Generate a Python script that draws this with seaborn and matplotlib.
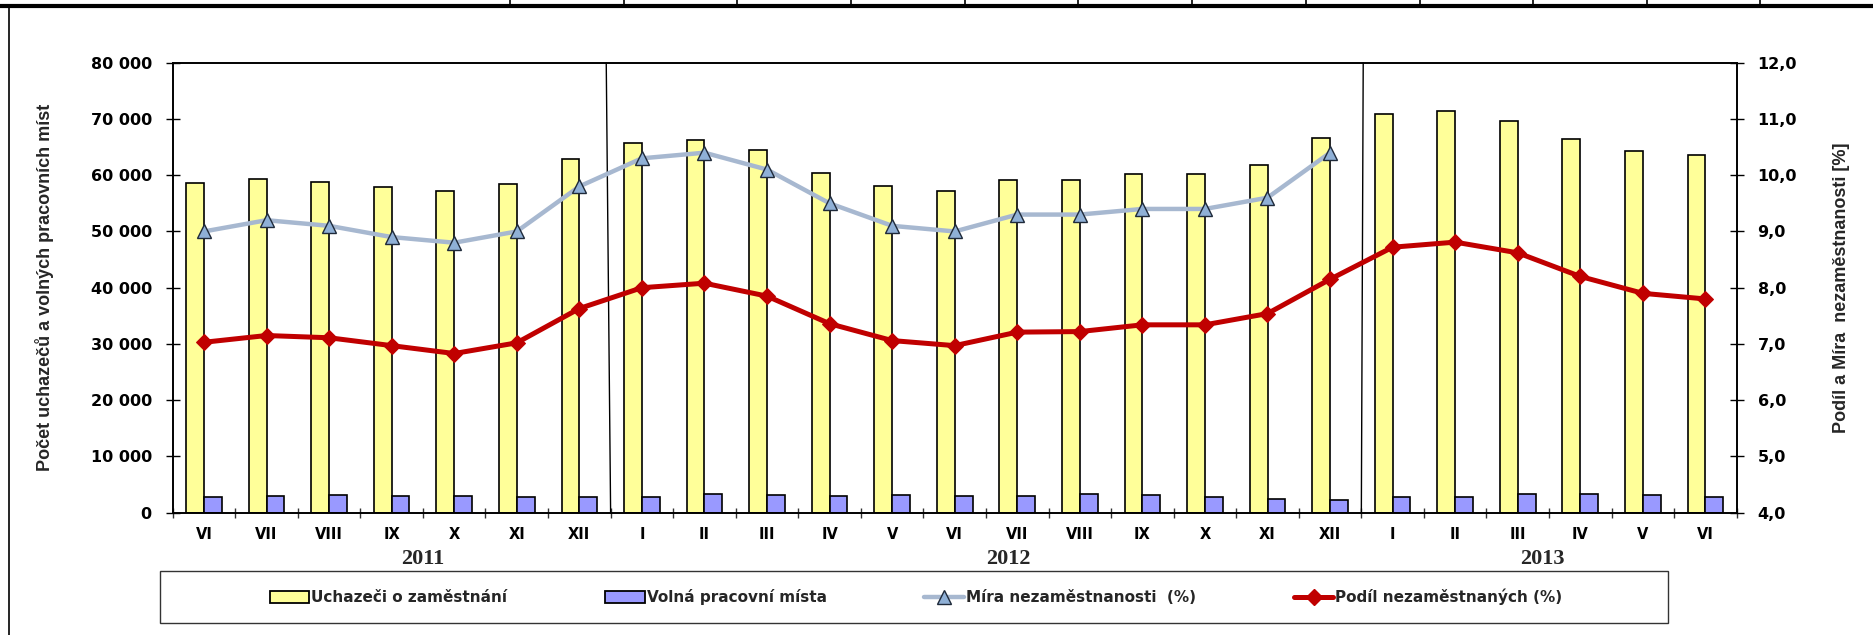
import numpy as np
import pandas as pd
import matplotlib
matplotlib.use("Agg")
import matplotlib.pyplot as plt
import seaborn as sns
from matplotlib.patches import Patch, Rectangle
from matplotlib.lines import Line2D
from matplotlib.ticker import FuncFormatter, FixedLocator

# data
months = ["VI", "VII", "VIII", "IX", "X", "XI", "XII",
          "I", "II", "III", "IV", "V", "VI", "VII", "VIII", "IX", "X", "XI", "XII",
          "I", "II", "III", "IV", "V", "VI"]
years = ["2011", "2012", "2013"]
year_counts = [7, 12, 6]
year_label_pos = [3.5, 12.85, 21.4]

uchazeci = [58540, 59260, 58840, 57950, 57190, 58430, 62870,
            65720, 66310, 64480, 60390, 58070, 57130, 59080, 59200, 60150, 60200, 61750, 66550,
            70820, 71350, 69630, 66370, 64240, 63530]
volna = [2840, 3020, 3080, 3020, 3020, 2840, 2790,
         2840, 3260, 3140, 2900, 3140, 2900, 2960, 3320, 3140, 2720, 2370, 2250,
         2720, 2720, 3320, 3320, 3080, 2720]
mira = [9.0, 9.2, 9.1, 8.9, 8.8, 9.0, 9.8,
        10.3, 10.4, 10.1, 9.5, 9.1, 9.0, 9.3, 9.3, 9.4, 9.4, 9.6, 10.4]
podil = [7.03, 7.15, 7.11, 6.97, 6.83, 7.02, 7.63,
         8.00, 8.08, 7.85, 7.36, 7.06, 6.97, 7.21, 7.22, 7.34, 7.34, 7.54, 8.15,
         8.72, 8.81, 8.62, 8.20, 7.90, 7.80]

bar_names = ["Uchazeči o zaměstnání", "Volná pracovní místa"]
line_names = ["Míra nezaměstnanosti  (%)", "Podíl nezaměstnaných (%)"]

YELLOW = "#FFFF99"
BLUE = "#9999FF"
GREYBLUE = "#A7B8D0"
TRI_FACE = "#8FB0D6"
RED = "#C00000"

sns.set_theme(style="white")
plt.rcParams["font.family"] = ["DejaVu Sans"]

W, H = 1874, 635
fig = plt.figure(figsize=(W / 100, H / 100), dpi=100)
ax = fig.add_axes([172.7 / W, 1 - 512.7 / H, 1564 / W, 450 / H])

n = len(months)
idx = list(range(n))
bars = pd.DataFrame({
    "pos": idx * 2,
    "value": uchazeci + volna,
    "serie": [bar_names[0]] * n + [bar_names[1]] * n,
})
sns.barplot(data=bars, x="pos", y="value", hue="serie", order=idx,
            hue_order=bar_names, palette=[YELLOW, BLUE], width=0.57,
            edgecolor="black", linewidth=1.2, saturation=1, legend=False, ax=ax)

ax.set_xlim(-0.5, n - 0.5)
ax.set_ylim(0, 80000)
ax.set_yticks(np.arange(0, 80001, 10000))
ax.yaxis.set_major_formatter(FuncFormatter(lambda v, p: f"{int(v):,}".replace(",", " ")))
ax.set_xticks(idx)
ax.set_xticklabels(months, fontsize=10.5, fontweight="bold")
ax.xaxis.set_minor_locator(FixedLocator(np.arange(-0.5, n, 1.0)))
ax.tick_params(axis="x", which="major", length=0, pad=10, colors="black")
ax.tick_params(axis="x", which="minor", direction="inout", length=7, width=1, color="#333333",
               bottom=True)
ax.tick_params(axis="y", direction="inout", length=10, width=1, pad=10, labelsize=11.5,
               colors="black", left=True)
for lab in ax.get_yticklabels():
    lab.set_fontweight("bold")
ax.set_xlabel("")
ax.set_ylabel("Počet uchazečů a volných pracovních míst", fontsize=13, fontweight="bold",
              family=["Liberation Sans", "DejaVu Sans"])
ax.yaxis.set_label_coords((54 - 172.7) / 1564, 0.5)
for s in ax.spines.values():
    s.set_color("black")
    s.set_linewidth(1.2)

# year separators and labels
bounds = np.cumsum(year_counts)[:-1] - 0.5
shifts = [-0.07, 0.03]
for b, sh in zip(bounds, shifts):
    ax.plot([b + sh, b], [80000, 0], color="black", lw=1.0, clip_on=False, zorder=5)
for yl, xp in zip(years, year_label_pos):
    ax.text(xp, -0.103, yl, transform=ax.get_xaxis_transform(), ha="center", va="center",
            fontsize=16, fontweight="bold", family=["Liberation Serif", "DejaVu Serif"])

# lines on secondary axis
ax2 = ax.twinx()
sns.lineplot(x=idx[:len(mira)], y=mira, ax=ax2, color=GREYBLUE, lw=3.2, marker="^",
             markersize=9.5, markerfacecolor=TRI_FACE, markeredgecolor="#1F2A3A",
             markeredgewidth=1.0, zorder=3)
sns.lineplot(x=idx, y=podil, ax=ax2, color=RED, lw=3.6, marker="D", markersize=8,
             markerfacecolor=RED, markeredgecolor=RED, zorder=4)
ax2.set_ylim(4, 12)
ax2.set_yticks(np.arange(4, 12.01, 1))
ax2.yaxis.set_major_formatter(FuncFormatter(lambda v, p: f"{v:.1f}".replace(".", ",")))
ax2.tick_params(axis="y", direction="inout", length=10, width=1, pad=10, labelsize=11.5,
                colors="black", right=True)
for lab in ax2.get_yticklabels():
    lab.set_fontweight("bold")
ax2.set_ylabel("Podíl a Míra  nezaměstnanosti [%]", fontsize=13, fontweight="bold",
               family=["Liberation Sans", "DejaVu Sans"], rotation=90)
ax2.yaxis.set_label_coords((1833 - 172.7) / 1564, 0.5)
ax2.grid(False)
ax.grid(False)
for s in ax2.spines.values():
    s.set_color("black")
    s.set_linewidth(1.2)

# legend
fig.add_artist(Rectangle((160 / W, 1 - 623 / H), 1508 / W, 52 / H, transform=fig.transFigure,
                         facecolor="none", edgecolor="#333333", lw=1.0))
handles = [
    Patch(facecolor=YELLOW, edgecolor="black", lw=1.3, label=bar_names[0]),
    Patch(facecolor=BLUE, edgecolor="black", lw=1.3, label=bar_names[1]),
    Line2D([], [], color=GREYBLUE, lw=3.2, marker="^", markersize=9.5, markerfacecolor=TRI_FACE,
           markeredgecolor="#1F2A3A", label=line_names[0]),
    Line2D([], [], color=RED, lw=3.6, marker="D", markersize=8, label=line_names[1]),
]
fig.legend(handles=handles, loc="center", bbox_to_anchor=(916 / W, 1 - 597 / H), ncol=4,
           frameon=False, prop={"weight": "bold", "size": 11}, handlelength=2.6,
           handleheight=0.75, handletextpad=0.12, columnspacing=6.4)

# surrounding table lines
fig.add_artist(Line2D([0, 1], [1 - 6 / H, 1 - 6 / H], transform=fig.transFigure, color="black", lw=3))
fig.add_artist(Line2D([9.5 / W, 9.5 / W], [0, 1 - 6 / H], transform=fig.transFigure, color="black", lw=1.2))
for xv in [510, 624, 737, 851, 965, 1078, 1192, 1306, 1420, 1533, 1647, 1760]:
    fig.add_artist(Line2D([xv / W, xv / W], [1 - 6 / H, 1], transform=fig.transFigure,
                          color="black", lw=1.2))

fig.savefig("out.png", dpi=100)
